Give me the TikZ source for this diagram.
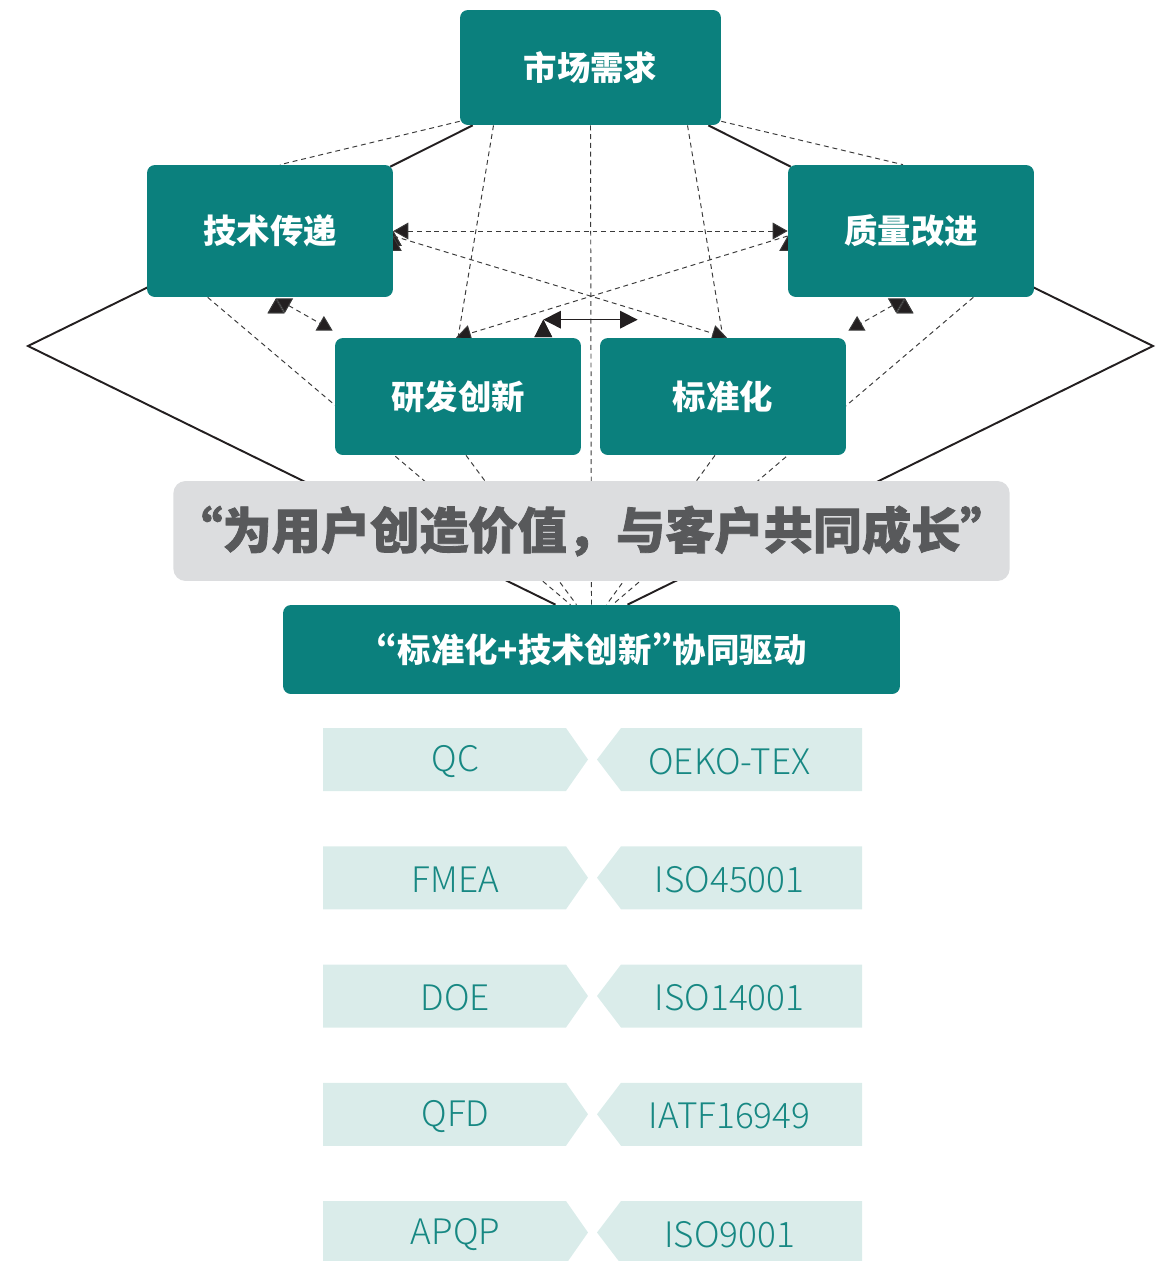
\documentclass[tikz,border=0pt]{standalone}
\usepackage{fontspec}
\usepackage{tikz}
\usetikzlibrary{arrows.meta}
\usetikzlibrary{calc}

\newfontfamily\cjk{Noto Sans CJK SC}
\IfFontExistsTF{Noto Sans CJK SC Light}
  {\newfontfamily\cjklight{Noto Sans CJK SC Light}}
  {\newfontfamily\cjklight{Noto Sans CJK SC}}

\definecolor{boxteal}{HTML}{0B807D}
\definecolor{bannergrey}{HTML}{DCDDDF}
\definecolor{bannertext}{HTML}{58595B}
\definecolor{tagfill}{HTML}{DAECEA}
\definecolor{tagtext}{HTML}{178883}
\definecolor{linegrey}{HTML}{3A3A3A}
\definecolor{lineblack}{HTML}{231F20}

\pgfdeclarelayer{background}
\pgfsetlayers{background,main}

\newcommand\pq[1]{{\addfontfeature{RawFeature=+pwid}#1}}

\begin{document}
\begin{tikzpicture}[x=0.02cm,y=0.02cm,
    main node/.style={rectangle,rounded corners=4.5pt,fill=boxteal,text=white,inner sep=0pt,
        font=\cjk\bfseries\fontsize{19pt}{23pt}\selectfont},
    top node/.style={main node,minimum width=5.22cm,minimum height=2.3cm},
    side node/.style={main node,minimum width=4.92cm,minimum height=2.64cm},
    mid node/.style={main node,minimum width=4.92cm,minimum height=2.34cm},
    banner node/.style={rectangle,rounded corners=7pt,fill=bannergrey,text=bannertext,inner sep=0pt,
        minimum width=16.66cm,minimum height=2cm,
        font=\cjk\bfseries\fontsize{28pt}{33pt}\selectfont\addfontfeature{FakeBold=1.6}},
    drive node/.style={main node,minimum width=12.34cm,minimum height=1.78cm,
        font=\cjk\bfseries\fontsize{19pt}{23pt}\selectfont},
    tag text/.style={text=tagtext,inner sep=0pt,font=\cjklight\fontsize{20pt}{24pt}\selectfont},
    frame line/.style={draw=lineblack,line width=1.1pt},
    thin dash/.style={draw=linegrey,line width=0.55pt,dash pattern=on 2.8pt off 2.2pt},
    thin line/.style={draw=lineblack,line width=0.8pt},
    one tip/.style={arrows={-Triangle[length=8.5pt,width=9.5pt,fill=lineblack]}},
    two tips/.style={arrows={Triangle[length=8.5pt,width=9.5pt,fill=lineblack]-Triangle[length=8.5pt,width=9.5pt,fill=lineblack]}},
    big tips/.style={arrows={Triangle[length=10pt,width=10pt,fill=lineblack]-Triangle[length=10pt,width=10pt,fill=lineblack]}}]

    \useasboundingbox (0,0) rectangle (1170,-1261);

    \node[top node] (mkt) at (590.5,-67.5) {市场需求};
    \node[side node] (tech) at (270,-231) {技术传递};
    \node[side node] (qual) at (911,-231) {质量改进};
    \node[mid node] (rd) at (458,-396.5) {研发创新};
    \node[mid node] (std) at (723,-396.5) {标准化};
    \node[banner node] (motto) at (591.5,-531) {“为用户创造价值，与客户共同成长”};
    \node[drive node] (drive) at (591.5,-649.5) {\pq{“}标准化+技术创新\pq{”}协同驱动};

    % tool tags
    \foreach \lname/\rname [count=\i from 0] in {QC/OEKO-TEX,FMEA/ISO45001,DOE/ISO14001,QFD/IATF16949,APQP/ISO9001} {
        \pgfmathsetmacro\yc{-759.5-118.25*\i}
        \fill[tagfill] (323,\yc+31.5) -- (566,\yc+31.5) -- (588,\yc) -- (566,\yc-31.5) -- (323,\yc-31.5) -- cycle;
        \fill[tagfill] (621,\yc+31.5) -- (862,\yc+31.5) -- (862,\yc-31.5) -- (621,\yc-31.5) -- (597,\yc) -- cycle;
        \node[tag text] (tl\i) at (455.5,\yc-2) {\lname};
        \node[tag text] (tr\i) at (729.5,\yc-2) {\rname};
    }

    \begin{pgfonlayer}{background}
        \coordinate (lv) at (28,-346);
        \coordinate (rv) at (1153,-346);
        % outline
        \draw[frame line] ($(mkt.south west)+(13,0)$) -- ($(tech.north east)+(-3,-2)$);
        \draw[frame line] ($(mkt.south east)+(-13,0)$) -- ($(qual.north west)+(3,-2)$);
        \draw[frame line] ($(tech.south west)+(1,10)$) -- (lv) -- ($(drive.north)+(-36,0)$);
        \draw[frame line] ($(qual.south east)+(-1,10)$) -- (rv) -- ($(drive.north)+(36,0)$);

        % inner links
        \path[thin dash] ($(mkt.south west)+(0,4)$) edge ($(tech.north)+(10,0)$);
        \path[thin dash] ($(mkt.south east)+(0,4)$) edge ($(qual.north)+(-8,0)$);
        \path[thin dash] ($(mkt.south)+(-97,0)$) edge (rd.north);
        \path[thin dash] ($(mkt.south)+(97,0)$) edge (std.north);
        \path[thin dash] (mkt.south) edge (drive.north);
        \path[thin dash] ($(tech.south west)+(61,0)$) edge ($(drive.north)+(-21,0)$);
        \path[thin dash] ($(qual.south east)+(-61,0)$) edge ($(drive.north)+(21,0)$);
        \path[thin dash] ($(rd.south)+(8,0)$) edge ($(drive.north)+(-15,0)$);
        \path[thin dash] ($(std.south)+(-8,0)$) edge ($(drive.north)+(15,0)$);

        \path[thin dash,two tips] (tech.east) edge (qual.west);
        \path[thin dash,one tip] ($(tech.east)+(0,-5)$) edge ($(std.north)+(4,0)$);
        \path[thin dash,one tip] ($(qual.west)+(0,-5)$) edge ($(rd.north)+(-2,0)$);
        \path[thin dash,two tips] ($(tech.south)+(6,-1)$) edge ($(rd.north west)+(-2,7)$);
        \path[thin dash,two tips] ($(qual.south)+(-6,-1)$) edge ($(std.north east)+(2,7)$);
        \path[thin line,big tips] ($(rd.north east)+(-38,18)$) edge ($(std.north west)+(38,18)$);
    \end{pgfonlayer}
\end{tikzpicture}
\end{document}
